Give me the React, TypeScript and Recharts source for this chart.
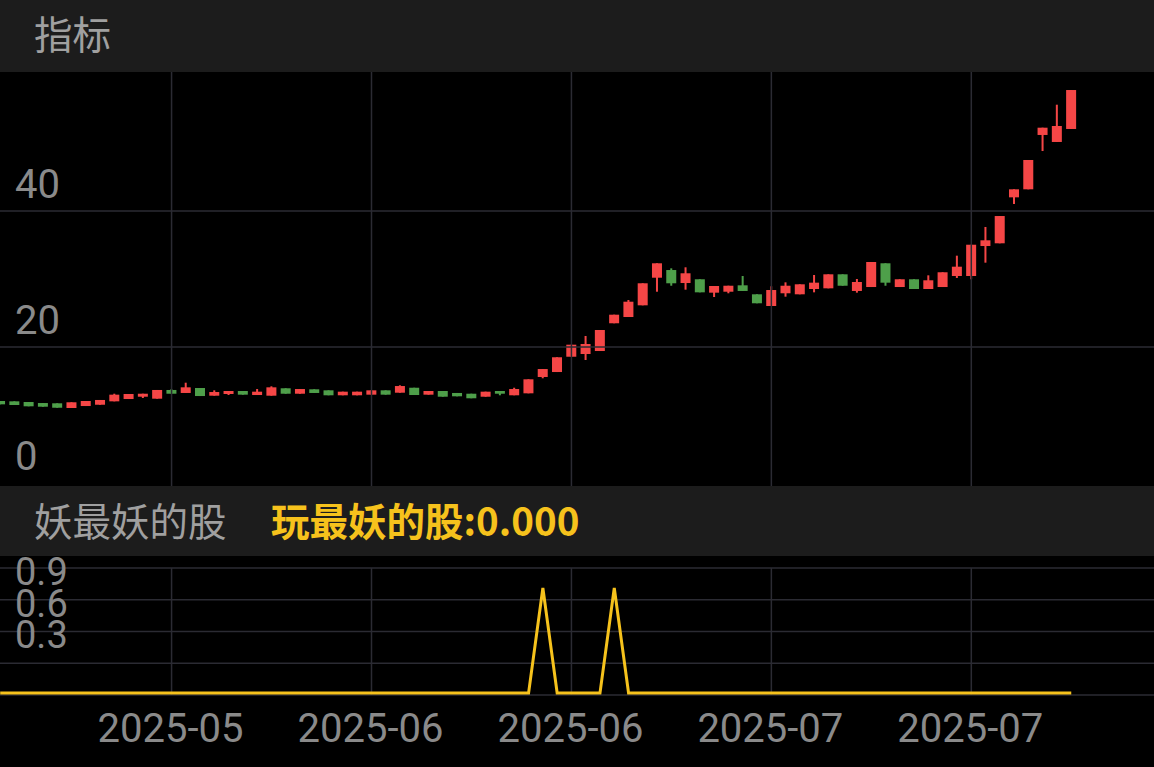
import { Bar, ComposedChart, Line, ReferenceLine, XAxis, YAxis } from 'recharts'

// 日K：开、收、高、低
const opens = [
  12.06, 12.01, 11.91, 11.76, 11.72, 11.03, 11.32, 11.51, 12.01, 12.35,
  12.69, 12.4, 13.68, 13.24, 13.97, 12.84, 13.09, 13.53, 12.94, 12.84,
  13.93, 13.13, 13.78, 13.63, 12.9, 12.9, 12.99, 13.63, 13.28, 14.01,
  12.99, 13.53, 13.24, 13.13, 12.69, 13.53, 12.9, 13.19, 15.59, 16.32,
  18.57, 18.97, 19.41, 23.49, 24.41, 26.13, 30.19, 31.32, 29.41, 29.96,
  27.99, 28.13, 29.07, 27.75, 26.03, 27.9, 27.75, 28.53, 28.63, 30.69,
  28.24, 28.82, 32.31, 28.82, 29.96, 28.53, 28.82, 30.44, 30.44, 34.85,
  35.25, 42.01, 43.19, 51.18, 50.15, 52.06,
]
const closes = [
  11.57, 11.47, 11.28, 11.22, 11.07, 11.87, 12.06, 12.21, 12.99, 13.09,
  13.13, 13.68, 13.13, 14.07, 12.79, 13.38, 13.53, 12.99, 13.43, 14.07,
  13.13, 13.82, 13.24, 12.9, 13.43, 13.43, 13.63, 12.99, 14.26, 12.94,
  13.53, 12.69, 12.75, 12.46, 13.43, 13.13, 13.82, 15.25, 16.76, 18.49,
  20.34, 20.44, 22.5, 24.75, 26.66, 29.37, 32.31, 29.37, 30.84, 28.04,
  28.97, 29.01, 28.24, 26.43, 28.38, 29.01, 29.22, 29.46, 30.69, 29.01,
  29.56, 32.5, 29.46, 29.96, 28.53, 29.81, 30.99, 31.81, 35.04, 35.69,
  39.26, 43.19, 47.5, 52.25, 52.5, 57.79,
]
const highs = [
  12.06, 12.01, 11.91, 11.76, 11.72, 11.87, 12.06, 12.21, 13.13, 13.09,
  13.13, 13.68, 13.82, 14.75, 13.97, 13.63, 13.53, 13.53, 13.82, 14.22,
  13.93, 13.82, 13.78, 13.63, 13.43, 13.43, 13.63, 13.63, 14.37, 14.01,
  13.53, 13.53, 13.24, 13.13, 13.43, 13.53, 14.01, 15.25, 16.76, 18.49,
  20.34, 21.62, 22.5, 24.75, 26.91, 29.37, 32.31, 31.57, 31.72, 29.96,
  28.97, 29.01, 30.44, 27.75, 28.93, 29.51, 29.22, 30.59, 30.69, 30.69,
  30.0, 32.5, 32.31, 29.96, 29.96, 30.54, 30.99, 33.43, 35.04, 37.65,
  39.26, 43.19, 47.5, 52.25, 55.63, 57.79,
]
const lows = [
  11.57, 11.47, 11.28, 11.22, 11.07, 11.03, 11.32, 11.51, 12.01, 12.35,
  12.5, 12.4, 13.13, 13.24, 12.79, 12.84, 12.94, 12.99, 12.94, 12.84,
  13.13, 13.13, 13.24, 12.9, 12.9, 12.9, 12.99, 12.99, 13.28, 12.94,
  12.99, 12.69, 12.75, 12.46, 12.69, 12.9, 12.9, 13.19, 15.4, 16.32,
  18.57, 18.09, 19.41, 23.49, 24.41, 26.13, 28.13, 29.01, 28.43, 28.04,
  27.35, 27.9, 28.24, 26.43, 26.03, 27.4, 27.75, 28.04, 28.63, 29.01,
  27.99, 28.82, 29.01, 28.82, 28.53, 28.53, 28.82, 30.15, 29.96, 32.4,
  35.25, 41.03, 43.19, 48.82, 50.15, 52.06,
]
// 玩最妖的股 指标值
const signal = [
  0, 0, 0, 0, 0, 0, 0, 0, 0, 0, 0, 0, 0, 0, 0, 0, 0, 0, 0, 0,
  0, 0, 0, 0, 0, 0, 0, 0, 0, 0, 0, 0, 0, 0, 0, 0, 0, 0, 1, 0,
  0, 0, 0, 1, 0, 0, 0, 0, 0, 0, 0, 0, 0, 0, 0, 0, 0, 0, 0, 0,
  0, 0, 0, 0, 0, 0, 0, 0, 0, 0, 0, 0, 0, 0, 0, 0,
]
const gridIdx = [12, 26, 40, 54, 68]
const gridLabels = ['2025-05', '2025-06', '2025-06', '2025-07', '2025-07']
const priceTicks = [0, 20, 40]
const signalTicks = [0.3, 0.6, 0.9]

const data = opens.map((open, i) => ({
  i,
  open,
  close: closes[i],
  high: highs[i],
  low: lows[i],
  signal: signal[i],
}))

const W = 1154
const RED = '#f54646'
const GREEN = '#4e9f4a'
const YELLOW = '#f6c21c'
const GRID = '#2b2b33'
const AXIS = '#8a8a8a'
const PANEL = '#1c1c1c'
const X_PAD = { left: -6.94, right: 75.6 }
const PRICE_DOMAIN: [number, number] = [-0.44, 60.44]
const SIG_DOMAIN: [number, number] = [-0.02, 1.19]
const sigGrid = [0, 1, 2, 3, 4].map((k) => SIG_DOMAIN[0] + (k * (SIG_DOMAIN[1] - SIG_DOMAIN[0])) / 4)

function Candle(props: any) {
  const { x, y, width, height, payload } = props
  const { open, close, high, low } = payload
  const color = close >= open ? RED : GREEN
  const k = high > low ? height / (high - low) : 0
  const top = y + (high - Math.max(open, close)) * k
  const bodyH = Math.max(1.5, Math.abs(open - close) * k)
  const cx = x + width / 2
  return (
    <g>
      <rect x={cx - 1} y={y} width={2} height={height} fill={color} />
      <rect x={x} y={top} width={width} height={bodyH} fill={color} />
    </g>
  )
}

function LeftTick(props: any) {
  const { y, payload, size, digits } = props
  return (
    <text x={15} y={y - 13} fill={AXIS} fontSize={size} fontFamily="Roboto">
      {digits ? Number(payload.value).toFixed(digits) : payload.value}
    </text>
  )
}

function DateTick(props: any) {
  const { x, y, payload } = props
  const label = gridLabels[gridIdx.indexOf(payload.value)]
  return (
    <text x={x - 1} y={y} dy={39} textAnchor="middle" fill={AXIS} fontSize={40} fontFamily="Roboto">
      {label}
    </text>
  )
}

const cjk = '"Noto Sans CJK SC", "Noto Sans", sans-serif'

export default function App() {
  return (
    <div style={{ position: 'absolute', left: 0, top: 0, width: W, height: 767, background: '#000', overflow: 'hidden' }}>
      <div style={{ position: 'absolute', left: 0, top: 0, width: W, height: 72, background: PANEL }}>
        <span style={{ position: 'absolute', left: 34, top: 6, fontSize: 38.5, lineHeight: '52px', color: '#a0a0a0', fontFamily: cjk }}>
          指标
        </span>
      </div>

      <div style={{ position: 'absolute', left: 0, top: 72 }}>
        <ComposedChart width={W} height={414} data={data} margin={{ top: 0, right: 0, bottom: 0, left: 0 }}>
          {gridIdx.map((g) => (
            <ReferenceLine key={'v' + g} x={g} stroke={GRID} strokeWidth={1.5} />
          ))}
          {priceTicks.slice(1).map((t) => (
            <ReferenceLine key={'h' + t} y={t} stroke={GRID} strokeWidth={1.5} />
          ))}
          <XAxis dataKey="i" type="category" scale="band" hide padding={X_PAD} />
          <YAxis
            domain={PRICE_DOMAIN}
            allowDataOverflow
            ticks={priceTicks}
            interval={0}
            mirror
            axisLine={false}
            tickLine={false}
            tick={<LeftTick size={40} />}
          />
          <Bar dataKey={(d: any) => [d.low, d.high]} barSize={10} shape={<Candle />} isAnimationActive={false} />
        </ComposedChart>
      </div>

      <div style={{ position: 'absolute', left: 0, top: 486, width: W, height: 70, background: PANEL, fontFamily: cjk, fontSize: 38.5 }}>
        <span style={{ position: 'absolute', left: 34, top: 7, lineHeight: '52px', color: '#a0a0a0' }}>妖最妖的股</span>
        <span style={{ position: 'absolute', left: 271, top: 7, lineHeight: '52px', color: YELLOW, fontWeight: 700 }}>
          玩最妖的股:0.000
        </span>
      </div>

      <div style={{ position: 'absolute', left: 0, top: 556 }}>
        <ComposedChart width={W} height={211} data={data} margin={{ top: 12, right: 0, bottom: 0, left: 0 }}>
          {gridIdx.map((g) => (
            <ReferenceLine key={'v' + g} x={g} stroke={GRID} strokeWidth={1.5} />
          ))}
          {sigGrid.map((v, k) => (
            <ReferenceLine key={'h' + k} y={v} stroke={GRID} strokeWidth={1.5} />
          ))}
          <XAxis
            dataKey="i"
            type="category"
            scale="band"
            padding={X_PAD}
            height={72}
            ticks={gridIdx}
            interval={0}
            axisLine={false}
            tickLine={false}
            tick={<DateTick />}
          />
          <YAxis
            domain={SIG_DOMAIN}
            allowDataOverflow
            ticks={signalTicks}
            interval={0}
            mirror
            axisLine={false}
            tickLine={false}
            tick={<LeftTick size={38} digits={1} />}
          />
          <Line
            type="linear"
            dataKey="signal"
            stroke={YELLOW}
            strokeWidth={3}
            dot={false}
            isAnimationActive={false}
          />
        </ComposedChart>
      </div>
    </div>
  )
}
